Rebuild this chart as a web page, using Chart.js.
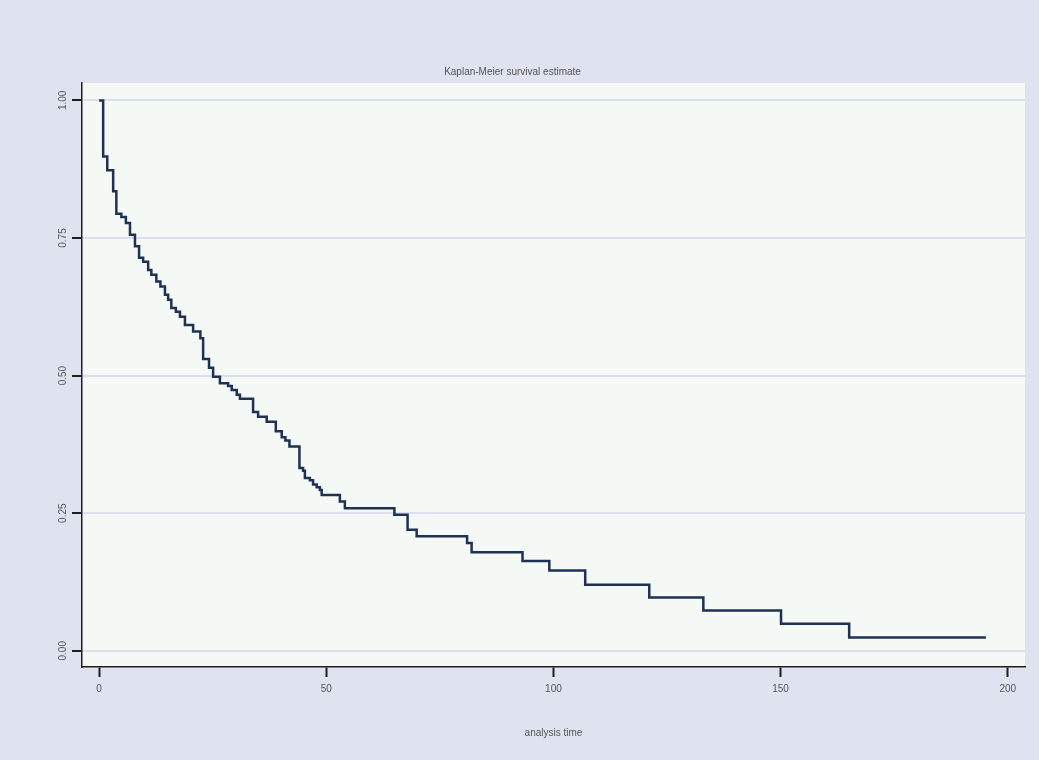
<!DOCTYPE html>
<html>
<head>
<meta charset="utf-8">
<script src="https://cdn.jsdelivr.net/npm/chart.js@4/dist/chart.umd.min.js"></script>
<style>
  html, body { margin: 0; padding: 0; background: #dfe3ef; }
  #wrap { width: 1039px; height: 760px; }
</style>
</head>
<body>
<div id="wrap"><canvas id="c" width="1039" height="760"></canvas></div>
<script>
// Kaplan-Meier step data
const times = [0, 0.9, 1.8, 3.1, 3.8, 4.9, 5.9, 6.8, 7.9, 8.8, 9.7, 10.8, 11.5, 12.6, 13.5, 14.5, 15.2, 15.9, 16.9, 17.8, 18.9, 20.7, 22.3, 22.9, 24.2, 25.1, 26.6, 28.4, 29.2, 30.3, 31.0, 33.9, 35.0, 36.9, 38.9, 40.2, 41.0, 41.9, 44.1, 44.9, 45.3, 46.4, 47.1, 47.9, 48.6, 49.0, 53.0, 54.1, 65.0, 67.9, 69.9, 81.0, 82.0, 93.2, 99.1, 107.0, 121.1, 133.0, 150.1, 165.1, 195.2];
const survival = [1.000, 0.898, 0.873, 0.835, 0.794, 0.788, 0.777, 0.756, 0.735, 0.714, 0.707, 0.692, 0.683, 0.671, 0.662, 0.647, 0.638, 0.623, 0.616, 0.607, 0.592, 0.580, 0.568, 0.530, 0.514, 0.498, 0.486, 0.481, 0.474, 0.465, 0.458, 0.434, 0.425, 0.416, 0.399, 0.388, 0.382, 0.371, 0.332, 0.327, 0.314, 0.310, 0.302, 0.297, 0.292, 0.283, 0.271, 0.259, 0.247, 0.220, 0.208, 0.196, 0.179, 0.163, 0.146, 0.120, 0.097, 0.073, 0.049, 0.024, 0.024];
const xTicks = [0, 50, 100, 150, 200];
const xTickLabels = ['0', '50', '100', '150', '200'];
const yTicks = [0, 0.25, 0.5, 0.75, 1];
const yTickLabels = ['0.00', '0.25', '0.50', '0.75', '1.00'];
const chartTitle = 'Kaplan-Meier survival estimate';
const xTitle = 'analysis time';

const OUTER = '#dfe3ef';
const PLOT = '#f4f9f6';
const TEXT = '#555555';
const AXIS = '#1e1e1e';
const FONT = "'Liberation Sans', Arial, sans-serif";

const bgPlugin = {
  id: 'bg',
  beforeDraw(chart) {
    const { ctx, chartArea: a } = chart;
    ctx.save();
    ctx.fillStyle = OUTER;
    ctx.fillRect(0, 0, chart.width, chart.height);
    ctx.fillStyle = PLOT;
    ctx.fillRect(a.left, a.top, a.right - a.left, a.bottom - a.top);
    ctx.restore();
  }
};

new Chart(document.getElementById('c'), {
  type: 'line',
  data: {
    datasets: [{
      data: times.map((t, i) => ({ x: t, y: survival[i] })),
      stepped: 'before',
      borderColor: '#1f3154',
      borderWidth: 2.5,
      pointRadius: 0,
      fill: false
    }]
  },
  plugins: [bgPlugin],
  options: {
    responsive: false,
    animation: false,
    layout: { padding: { left: 0, right: 14, top: 0, bottom: 0 } },
    plugins: {
      legend: { display: false },
      tooltip: { enabled: false },
      title: {
        display: true,
        text: chartTitle,
        color: TEXT,
        font: { family: FONT, size: 10, weight: 'normal', lineHeight: 1.2 },
        padding: { top: 66, bottom: 5 }
      }
    },
    scales: {
      x: {
        type: 'linear',
        min: -3.76,
        max: 203.8,
        afterBuildTicks: (s) => { s.ticks = xTicks.map(v => ({ value: v })); },
        afterFit: (s) => { s.height = 93; },
        border: { display: true, color: AXIS, width: 1.5 },
        grid: { drawOnChartArea: false, drawTicks: true, tickLength: 10, tickColor: AXIS, tickWidth: 2 },
        ticks: {
          color: TEXT,
          font: { family: FONT, size: 10 },
          padding: 6,
          maxRotation: 0,
          callback: (v) => { const i = xTicks.indexOf(v); return i >= 0 ? xTickLabels[i] : ''; }
        },
        title: {
          display: true,
          text: xTitle,
          color: TEXT,
          font: { family: FONT, size: 10, lineHeight: 1.2 },
          padding: { top: 0, bottom: 21 }
        }
      },
      y: {
        type: 'linear',
        min: -0.0295,
        max: 1.0316,
        afterBuildTicks: (s) => { s.ticks = yTicks.map(v => ({ value: v })); },
        afterFit: (s) => { s.width = 82; },
        border: { display: true, color: AXIS, width: 1.5 },
        grid: { color: '#d9dfee', lineWidth: 2, drawTicks: true, tickLength: 10, tickColor: AXIS, tickWidth: 2 },
        ticks: {
          color: TEXT,
          font: { family: FONT, size: 10 },
          padding: -1,
          minRotation: 90,
          maxRotation: 90,
          crossAlign: 'center',
          callback: (v) => { const i = yTicks.indexOf(v); return i >= 0 ? yTickLabels[i] : ''; }
        }
      }
    }
  }
});
</script>
</body>
</html>
